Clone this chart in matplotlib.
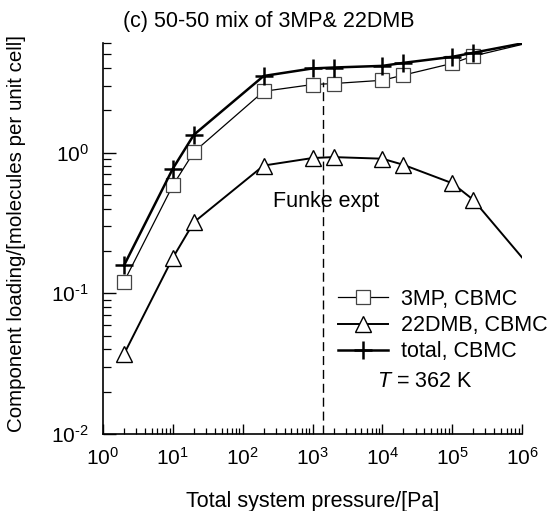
import matplotlib
matplotlib.use("Agg")
import matplotlib.pyplot as plt
from matplotlib.ticker import LogLocator, NullFormatter, FuncFormatter
import math

plt.rcParams['font.family'] = ['Liberation Sans', 'DejaVu Sans']
plt.rcParams['mathtext.fontset'] = 'custom'
plt.rcParams['mathtext.rm'] = 'Liberation Sans'
plt.rcParams['mathtext.it'] = 'Liberation Sans:italic'
plt.rcParams['axes.unicode_minus'] = False

# Data (pressure in Pa, loading in molecules per unit cell)
pressure = [2, 10, 20, 200, 1000, 2000, 10000, 20000, 100000, 200000]
load_3mp = [0.121, 0.585, 1.01, 2.73, 3.05, 3.10, 3.27, 3.56, 4.31, 4.86]
load_22dmb = [0.037, 0.179, 0.32, 0.81, 0.916, 0.93, 0.906, 0.82, 0.607, 0.463]
load_total = [0.158, 0.77, 1.34, 3.51, 3.97, 4.03, 4.14, 4.35, 4.80, 5.13]
# line continuation to the axis edge
p_end = 1e6
end_3mp = 5.88
end_22dmb = 0.18
end_total = 5.98
funke_pressure = 1400
funke_top = 3.2

W, H = 551, 511
fig = plt.figure(figsize=(W / 100, H / 100), dpi=100)
ax = fig.add_axes([103/W, 1-434/H, (522-103)/W, (434-42.7)/H])

n = len(pressure)
ax.plot(pressure + [p_end], load_3mp + [end_3mp], color='black', lw=0.9,
        marker='s', ms=9.5, mfc='white', mec='#444444', mew=0.9,
        markevery=list(range(n)), label='3MP, CBMC', zorder=3)
ax.plot(pressure + [p_end], load_22dmb + [end_22dmb], color='black', lw=1.4,
        marker='^', ms=11, mfc='white', mec='black', mew=1.0,
        markevery=list(range(n)), label='22DMB, CBMC', zorder=3)
ax.plot(pressure + [p_end], load_total + [end_total], color='black', lw=1.8,
        marker='+', ms=13, mec='black', mew=1.8,
        markevery=list(range(n)), label='total, CBMC', zorder=4)

ax.plot([funke_pressure, funke_pressure], [0.01, funke_top], color='black',
        lw=1.0, ls=(0, (6.5, 3.5)), zorder=2)
ax.text(1580, 0.453, 'Funke expt', fontsize=15.5, ha='center', va='center')

ax.set_xscale('log')
ax.set_yscale('log')
ax.set_xlim(1, 1e6)
ax.set_ylim(0.01, 6.05)


def pow_fmt(v, pos):
    e = int(round(math.log10(v)))
    if e < 0:
        return r'$\mathdefault{10^{\text{-}%d}}$' % (-e)
    return r'$\mathdefault{10^{%d}}$' % e


ax.xaxis.set_major_locator(LogLocator(base=10, numticks=10))
ax.xaxis.set_minor_locator(LogLocator(base=10, subs=range(2, 10), numticks=20))
ax.yaxis.set_major_locator(LogLocator(base=10, numticks=10))
ax.yaxis.set_minor_locator(LogLocator(base=10, subs=range(2, 10), numticks=20))
ax.xaxis.set_major_formatter(FuncFormatter(pow_fmt))
ax.yaxis.set_major_formatter(FuncFormatter(pow_fmt))
ax.xaxis.set_minor_formatter(NullFormatter())
ax.yaxis.set_minor_formatter(NullFormatter())

for s in ['top', 'right']:
    ax.spines[s].set_visible(False)
for s in ['left', 'bottom']:
    ax.spines[s].set_linewidth(1.2)

ax.tick_params(which='both', direction='in', top=False, right=False)
ax.tick_params(axis='y', which='major', length=9, width=1.0, labelsize=15, pad=10)
ax.tick_params(axis='y', which='minor', length=6, width=0.9)
ax.tick_params(axis='x', which='major', length=7, width=1.0, labelsize=15, pad=9)
ax.tick_params(axis='x', which='minor', length=4.5, width=0.9)

fig.text(312.5/W, 1-506.5/H, 'Total system pressure/[Pa]', fontsize=15.5,
         ha='center', va='baseline')
fig.text(17/W, 1-234/H, 'Component loading/[molecules per unit cell]',
         fontsize=14.8, ha='center', va='center', rotation=90)

fig.text(123/W, 1-27.5/H, '(c) 50-50 mix of 3MP& 22DMB', fontsize=15.5,
         ha='left', va='baseline')

leg = ax.legend(loc='upper left', bbox_to_anchor=(337.7/W, 1-289/H),
                bbox_transform=fig.transFigure, frameon=False,
                fontsize=15.5, handlelength=2.33, handletextpad=0.6,
                labelspacing=0.24, borderaxespad=0, borderpad=0)
fig.text(377/W, 1-381/H, r'$\it{T}$ = 362 K', fontsize=15.5,
         ha='left', va='center')

fig.savefig('out.png', dpi=100)
